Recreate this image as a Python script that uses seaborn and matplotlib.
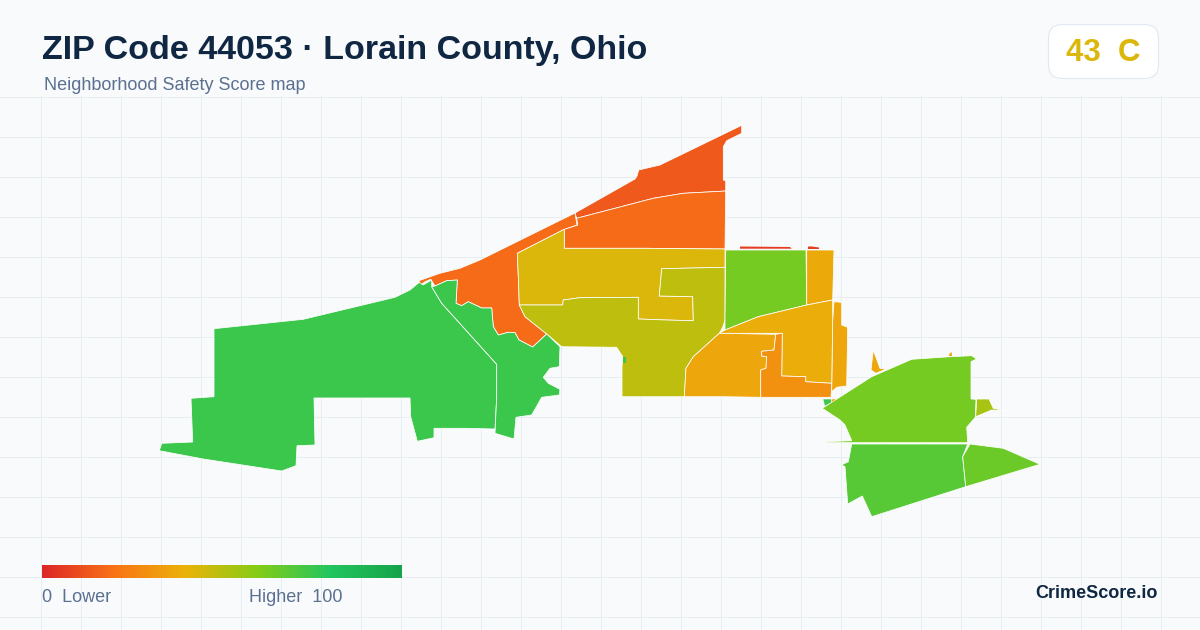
"""
Neighborhood safety score map for ZIP 44053, Lorain County, Ohio.
Region outlines are traced off the picture, in image pixels.
"""

import matplotlib.pyplot as plt
from matplotlib.patches import FancyBboxPatch
import numpy as np
import seaborn as sns

WIDTH, HEIGHT = 1200, 630

TITLE = "ZIP Code 44053 · Lorain County, Ohio"
SUBTITLE = "Neighborhood Safety Score map"
BADGE_SCORE = 43
BADGE_GRADE = "C"
BRAND = "CrimeScore.io"
SCALE_LOW = "0  Lower"
SCALE_HIGH = "Higher  100"

SCALE_COLORS = ["#dc2626", "#f97316", "#eab308", "#84cc16", "#22c55e", "#16a34a"]

# score per block group
north_shore_score = 13.5
north_orange_score = 18
west_orange_score = 18
yellow_score = 43
olive_score = 48.6
lime_score = 63
amber_top_score = 37
amber_strip_score = 36
amber_mid_score = 38
amber_low_score = 36
orange_low_score = 29
west_green_score = 74.7
east_green_score = 74.7
se_upper_score = 63
se_lower_score = 69
se_east_score = 65
se_knob_score = 52.8
se_spike_score = 36
sliver_score = 6

north_shore = [(575, 213), (635, 179), (637, 176), (638.7, 170), (660, 165), (741.7, 125.3), (741.7, 133.3),
               (726.7, 140.7), (723.3, 146.7), (723.3, 180), (725.7, 180.7), (725.7, 191), (683.3, 193.3),
               (653.3, 198.3), (576.7, 218.3)]
north_orange = [(576.7, 218.3), (653.3, 198.3), (683.3, 193.3), (725.7, 191), (725, 249), (645, 248.3),
                (564.3, 248.3), (564.3, 229.3), (577.7, 225)]
west_orange = [(419, 280.7), (440, 273.3), (460, 268.3), (480, 260), (575, 213), (577, 225), (564.3, 229.3),
               (517.3, 253.3), (518.3, 276.7), (519.3, 305), (525, 316.7), (546.7, 334), (532.7, 347), (519, 340),
               (515, 332.7), (508.3, 332.3), (498.3, 335), (493.3, 326.7), (491.7, 308), (481.7, 308),
               (468.3, 301.7), (461.7, 305.7), (456, 303.3), (457.3, 280), (446.7, 280.7), (435, 286),
               (430.7, 279.3), (425, 281.7), (420, 285.7)]
yellow = [(517.3, 253.3), (564.3, 229.3), (564.3, 248.3), (645, 248.3), (725, 249), (725, 267.3), (661.7, 268.7),
          (659.3, 296), (692.7, 296.7), (693.3, 320.7), (666, 320), (638.3, 319), (638.3, 297.3), (580, 297.7),
          (563.3, 300), (562.7, 305), (519.3, 305), (518.3, 276.7)]
olive = [(519.3, 305), (562.7, 305), (563.3, 300), (580, 297.7), (638.3, 297.3), (638.3, 319), (666, 320),
         (693.3, 320.7), (692.7, 296.7), (659.3, 296), (661.7, 268.7), (725, 267.3), (725, 320), (722.7, 327.3),
         (719.3, 333.3), (693.3, 356.7), (686, 368.3), (684.3, 396.7), (622, 396.7), (622, 366.7), (622.7, 356.7),
         (616.7, 347.3), (561.7, 346.7), (546.7, 334), (525, 316.7)]
lime = [(725.7, 250), (806, 250), (806.7, 305), (758.3, 316.7), (725, 330), (725, 320)]
amber_top = [(806.7, 250), (834, 250), (832.7, 300), (806.7, 305)]
amber_strip = [(834, 301.7), (841.7, 302.3), (841.7, 325), (847.7, 327.3), (846.7, 386), (836.7, 387.3),
               (831.7, 391.7), (832.7, 320)]
amber_mid = [(725, 330), (758.3, 316.7), (806.7, 305), (832.7, 300), (832.7, 320), (831.7, 383.3), (805.7, 381.7),
             (805.7, 376.7), (781.7, 376), (782.3, 333.3), (719.3, 333.3)]
amber_low = [(719.3, 333.3), (775.7, 334.3), (774, 350), (761.7, 351.3), (761.7, 356), (766.7, 356.7), (766, 368.3),
             (760.7, 370), (760.7, 397.3), (722.7, 396.7), (684.3, 396.7), (686, 368.3), (693.3, 356.7)]
orange_low = [(775.7, 334.3), (782.3, 333.3), (781.7, 376), (805.7, 376.7), (805.7, 381.7), (831.7, 383.3),
              (831, 397.3), (760.7, 397.3), (760.7, 370), (766, 368.3), (766.7, 356.7), (761.7, 356), (761.7, 351.3),
              (774, 350)]
west_green = [(214, 328.7), (303.3, 319.3), (395, 297.3), (410, 290), (419.3, 282.3), (423, 285), (431.7, 280),
              (431.7, 286.7), (441.7, 303.3), (496.7, 364.3), (496.7, 396.7), (495, 429), (465, 428.3), (434, 428.3),
              (434, 437.7), (417.3, 441.3), (410.7, 416.7), (410, 398), (314, 398), (315, 445), (297, 445.7),
              (296, 465.7), (281.7, 471), (203.3, 459), (159.3, 450.7), (161.7, 443.3), (192.7, 442), (191, 398.3),
              (214, 396.7)]
east_green = [(431.7, 286.7), (435, 286), (446.7, 280.7), (457.3, 280), (456, 303.3), (461.7, 305.7), (468.3, 301.7),
              (481.7, 308), (491.7, 308), (493.3, 326.7), (498.3, 335), (508.3, 332.3), (515, 332.7), (519, 340),
              (532.7, 347), (546.7, 334), (560, 346.7), (559.3, 366.7), (550, 368.3), (543.3, 377.3), (548.3, 383.3),
              (560, 389.3), (559.3, 395), (541.7, 397.3), (531.7, 415), (516, 417.3), (514, 439), (495, 433.3),
              (496.7, 396.7), (496.7, 364.3), (441.7, 303.3)]
se_upper = [(822.3, 408.3), (871.7, 376.7), (911.7, 359.3), (950, 356.7), (971.7, 355.7), (976.7, 359), (971, 361.7),
            (971, 399), (976, 399.3), (975.3, 417.3), (966.7, 427.3), (967.7, 442.7), (851.7, 442.7), (826.7, 442.7),
            (826.7, 441.7), (851.7, 440.7), (845, 425), (840, 420)]
se_lower = [(851.7, 444), (967.7, 444), (962.7, 456.7), (965.7, 486.7), (871.7, 516.7), (862.3, 496), (847.7, 504),
            (845, 466.7), (841.3, 465), (848.3, 461.7)]
se_east = [(970, 444), (1003.3, 448.3), (1040, 464.3), (965.7, 486.7), (962.7, 456.7)]
se_knob = [(976.7, 399), (989, 399), (993.3, 408.3), (1005, 410.7), (991.7, 410), (975.7, 416.7)]
se_spike = [(873.3, 350), (880, 368.3), (886, 369), (876, 373.3), (871, 370)]
se_dot = [(949.3, 354), (951.7, 352), (952, 356), (949, 356)]
se_green_bit = [(823.3, 399.3), (831, 399.3), (831, 402.3), (825, 405.7)]
se_amber_bit = [(831.7, 399.3), (836, 399.3), (831.7, 402)]
notch_bit = [(623.3, 356.7), (625.7, 356.7), (625.7, 363.3), (623.3, 363.3)]
sliver_a = [(740, 246.5), (790, 247), (791.7, 248.7), (740, 248.7)]
sliver_b = [(808, 246.5), (812, 246.5), (819, 247.5), (819, 249), (808, 249)]

regions = [
    (north_shore, north_shore_score), (north_orange, north_orange_score), (west_orange, west_orange_score),
    (yellow, yellow_score), (olive, olive_score), (lime, lime_score), (amber_top, amber_top_score),
    (amber_strip, amber_strip_score), (amber_mid, amber_mid_score), (amber_low, amber_low_score),
    (orange_low, orange_low_score), (west_green, west_green_score), (east_green, east_green_score),
    (se_upper, se_upper_score), (se_lower, se_lower_score), (se_east, se_east_score), (se_knob, se_knob_score),
    (se_spike, se_spike_score),
]
# too small to carry a white outline
small_regions = [
    (se_dot, se_spike_score), (se_green_bit, east_green_score), (se_amber_bit, amber_low_score),
    (notch_bit, east_green_score), (sliver_a, sliver_score), (sliver_b, sliver_score),
]

BG = "#f8fafc"
GRID = "#e6eef3"
INK = "#0f2742"
MUTED = "#5b7090"

sns.set_theme(style="whitegrid", rc={"figure.facecolor": BG, "axes.facecolor": BG, "grid.color": GRID})
plt.rcParams["font.family"] = ["Liberation Sans", "DejaVu Sans"]

score_cmap = sns.blend_palette(SCALE_COLORS, as_cmap=True)

fig = plt.figure(figsize=(WIDTH / 100, HEIGHT / 100), dpi=100)

# map panel: the grid only starts under the header, axes use image pixels
top = 96
ax = fig.add_axes([0, 0, 1, 1 - top / HEIGHT])
ax.set_xlim(0, WIDTH)
ax.set_ylim(HEIGHT, top)
ax.set_xticks(np.arange(40.5, WIDTH, 40))
ax.set_yticks(np.arange(96.5, HEIGHT, 40))
ax.grid(True, linewidth=0.72)
ax.tick_params(length=0, labelbottom=False, labelleft=False)
sns.despine(ax=ax, left=True, bottom=True)

for outline, score in regions:
    xs, ys = zip(*outline)
    ax.fill(xs, ys, facecolor=score_cmap(score / 100), edgecolor="#ffffff", linewidth=0.55, zorder=3)
for outline, score in small_regions:
    xs, ys = zip(*outline)
    ax.fill(xs, ys, facecolor=score_cmap(score / 100), edgecolor="none", zorder=3)

# overlay for header, badge and legend text
over = fig.add_axes([0, 0, 1, 1], facecolor="none")
over.set_xlim(0, WIDTH)
over.set_ylim(HEIGHT, 0)
over.axis("off")

over.text(42, 50, TITLE, fontsize=24.5, fontweight="bold", color=INK, va="center", ha="left")
over.text(44, 86, SUBTITLE, fontsize=12.95, color=MUTED, va="center", ha="left")

over.add_patch(FancyBboxPatch((1048.5, 24.5), 110, 54, boxstyle="round,pad=0,rounding_size=14",
                              facecolor="#ffffff", edgecolor="#e2e8f0", linewidth=0.8))
over.text(1103, 53, f"{BADGE_SCORE}  {BADGE_GRADE}", fontsize=22.5, fontweight="bold",
          color=score_cmap(BADGE_SCORE / 100), va="center", ha="center")

over.text(42, 598, SCALE_LOW, fontsize=13, color=MUTED, va="center", ha="left")
over.text(249, 598, SCALE_HIGH, fontsize=13, color=MUTED, va="center", ha="left")
over.text(1158, 594, BRAND, fontsize=13, fontweight="bold", color=INK, va="center", ha="right")

# legend gradient bar
bar_ax = fig.add_axes([42 / WIDTH, 1 - 578 / HEIGHT, 360 / WIDTH, 13 / HEIGHT])
sns.heatmap(np.linspace(0, 100, 360).reshape(1, -1), cmap=score_cmap, vmin=0, vmax=100, cbar=False,
            xticklabels=False, yticklabels=False, ax=bar_ax)

fig.savefig("out.png", dpi=100, facecolor=BG)
